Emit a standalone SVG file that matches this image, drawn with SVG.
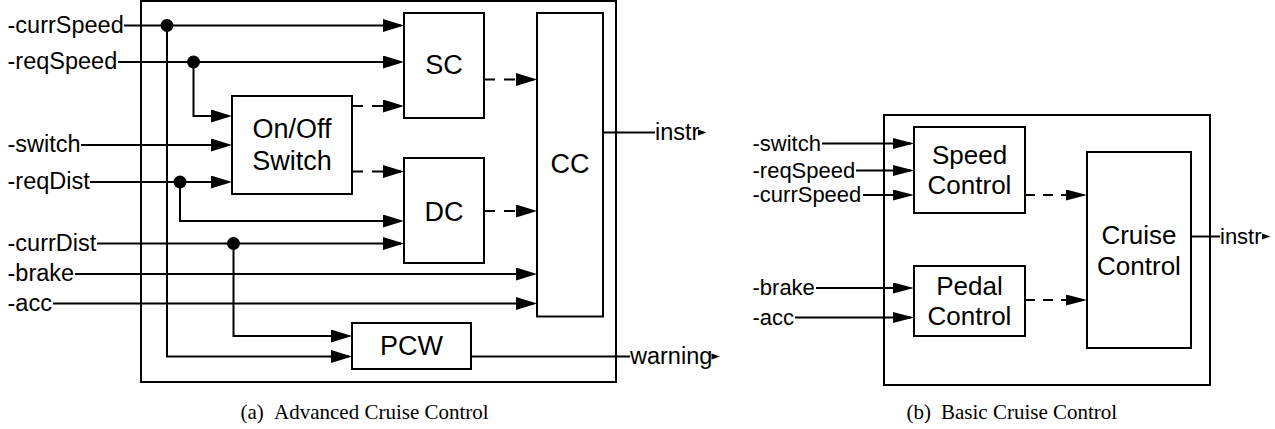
<svg xmlns="http://www.w3.org/2000/svg" width="1275" height="429" viewBox="0 0 1275 429">
<style>
.box{fill:#fff;stroke:#000;stroke-width:2}
.frame{fill:none;stroke:#000;stroke-width:2}
.wire{fill:none;stroke:#000;stroke-width:2}
.dash{stroke-dasharray:11 9}
.dash2{stroke-dasharray:10 8}
.in{font-family:"Liberation Sans",Arial,sans-serif;font-size:23.5px;fill:#000}
.in2{font-family:"Liberation Sans",Arial,sans-serif;font-size:22px;fill:#000}
.nl{font-family:"Liberation Sans",Arial,sans-serif;font-size:27px;fill:#000;text-anchor:middle}
.nl2{font-family:"Liberation Sans",Arial,sans-serif;font-size:26px;fill:#000;text-anchor:middle}
.cap{font-family:"Liberation Serif","Times New Roman",serif;font-size:21px;fill:#000}
.dot{fill:#000}
.tip{fill:#000}
</style>
<defs>
<marker id="a" markerUnits="userSpaceOnUse" markerWidth="21" markerHeight="13" viewBox="0 0 21 13" refX="18" refY="6.5" orient="auto"><path d="M0,0 L21,6.5 L0,13 z" fill="#000"/></marker>
<marker id="b" markerUnits="userSpaceOnUse" markerWidth="21" markerHeight="11" viewBox="0 0 21 11" refX="18" refY="5.5" orient="auto"><path d="M0,0 L21,5.5 L0,11 z" fill="#000"/></marker>
</defs>

<g id="frame-a"><rect class="frame" x="141" y="1" width="475" height="381"/></g>
<g id="frame-b"><rect class="frame" x="884" y="115" width="326" height="270"/></g>

<g id="connectors">
<path class="wire" marker-end="url(#a)" d="M124,25.5 H401"/>
<path class="wire" marker-end="url(#a)" d="M167,25.5 V356.5 H349"/>
<path class="wire" marker-end="url(#a)" d="M118,62 H401"/>
<path class="wire" marker-end="url(#a)" d="M193.5,62 V116 H229"/>
<path class="wire" marker-end="url(#a)" d="M81,145 H229"/>
<path class="wire" marker-end="url(#a)" d="M90,182 H229"/>
<path class="wire" marker-end="url(#a)" d="M180,182 V221 H401"/>
<path class="wire" marker-end="url(#a)" d="M97,243.5 H401"/>
<path class="wire" marker-end="url(#a)" d="M233.5,243.5 V336 H349"/>
<path class="wire" marker-end="url(#a)" d="M75,274 H534"/>
<path class="wire" marker-end="url(#a)" d="M53,303.5 H534"/>
<path class="wire dash" marker-end="url(#a)" d="M352,106 H401"/>
<path class="wire dash" marker-end="url(#a)" d="M352,171.5 H401"/>
<path class="wire dash" marker-end="url(#a)" d="M484,79.5 H534"/>
<path class="wire dash" marker-end="url(#a)" d="M484,211 H534"/>
<path class="wire" d="M603,132.5 H655"/>
<path class="wire" d="M471,356.5 H630"/>
<circle class="dot" cx="167" cy="25.5" r="6.5"/>
<circle class="dot" cx="193.5" cy="62" r="6.5"/>
<circle class="dot" cx="180" cy="182" r="6.5"/>
<circle class="dot" cx="233.5" cy="243.5" r="6.5"/>
<polygon class="tip" points="698,129.5 706.5,132.5 698,135.5"/>
<polygon class="tip" points="711.5,353.5 720,356.5 711.5,359.5"/>

<path class="wire" marker-end="url(#b)" d="M822,143.5 H911"/>
<path class="wire" marker-end="url(#b)" d="M856,170.5 H911"/>
<path class="wire" marker-end="url(#b)" d="M863,195 H911"/>
<path class="wire" marker-end="url(#b)" d="M816,288 H911"/>
<path class="wire" marker-end="url(#b)" d="M795,317.5 H911"/>
<path class="wire dash2" marker-end="url(#b)" d="M1025,195 H1084"/>
<path class="wire dash2" marker-end="url(#b)" d="M1025,300 H1084"/>
<path class="wire" d="M1191,236.5 H1220"/>
<polygon class="tip" points="1262,233.5 1270.5,236.5 1262,239.5"/>
</g>

<g id="labels-a">
<text class="in" x="7.5" y="32.5">-currSpeed</text>
<text class="in" x="7.5" y="69">-reqSpeed</text>
<text class="in" x="7.5" y="152">-switch</text>
<text class="in" x="7.5" y="189">-reqDist</text>
<text class="in" x="7.5" y="250.5">-currDist</text>
<text class="in" x="7.5" y="281">-brake</text>
<text class="in" x="7.5" y="310.5">-acc</text>
<text class="in" x="655" y="139.5">instr</text>
<text class="in" x="630" y="363.5">warning</text>
</g>

<g id="SC"><rect class="box" x="404" y="13" width="80" height="105"/><text class="nl" x="444" y="74">SC</text></g>
<g id="OnOffSwitch"><rect class="box" x="232" y="96" width="120" height="98"/><text class="nl" x="292" y="137.5">On/Off</text><text class="nl" x="292" y="170">Switch</text></g>
<g id="DC"><rect class="box" x="404" y="158" width="80" height="105"/><text class="nl" x="444" y="221">DC</text></g>
<g id="CC"><rect class="box" x="537" y="13" width="66" height="303.5"/><text class="nl" x="570" y="173">CC</text></g>
<g id="PCW"><rect class="box" x="352" y="323" width="119" height="46"/><text class="nl" x="411.5" y="355">PCW</text></g>

<g id="labels-b">
<text class="in2" x="752.5" y="150.5">-switch</text>
<text class="in2" x="752.5" y="177.5">-reqSpeed</text>
<text class="in2" x="752.5" y="202">-currSpeed</text>
<text class="in2" x="752.5" y="295">-brake</text>
<text class="in2" x="752.5" y="324.5">-acc</text>
<text class="in2" x="1220" y="243.5">instr</text>
</g>

<g id="SpeedControl"><rect class="box" x="914" y="127" width="111" height="86"/><text class="nl2" x="969.5" y="163.5">Speed</text><text class="nl2" x="969.5" y="194">Control</text></g>
<g id="PedalControl"><rect class="box" x="914" y="266" width="111" height="70"/><text class="nl2" x="969.5" y="294.5">Pedal</text><text class="nl2" x="969.5" y="325">Control</text></g>
<g id="CruiseControl"><rect class="box" x="1087" y="152" width="104" height="196"/><text class="nl2" x="1139" y="244">Cruise</text><text class="nl2" x="1139" y="275">Control</text></g>

<g id="captions">
<text class="cap" y="418.5"><tspan x="240.5">(a)</tspan><tspan x="274">Advanced Cruise Control</tspan></text>
<text class="cap" y="418.5"><tspan x="906.5">(b)</tspan><tspan x="941">Basic Cruise Control</tspan></text>
</g>
</svg>
